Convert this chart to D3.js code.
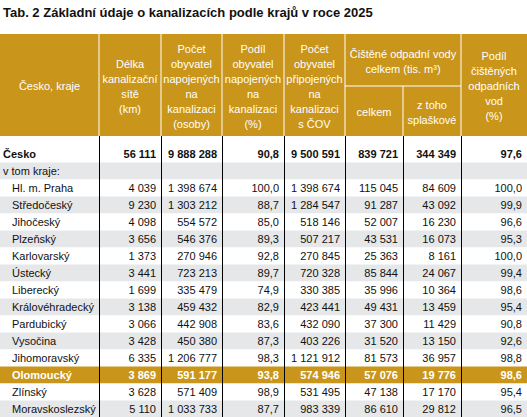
<!DOCTYPE html>
<html><head><meta charset="utf-8">
<script src="https://cdn.jsdelivr.net/npm/d3@7"></script>
<style>body{margin:0;background:#fff}text{font-family:"Liberation Sans",Arial,sans-serif}</style>
</head><body><div id="t"></div>
<script>
var regions = ["Česko", "v tom kraje:", "Hl. m. Praha", "Středočeský", "Jihočeský", "Plzeňský", "Karlovarský", "Ústecký", "Liberecký", "Královéhradecký", "Pardubický", "Vysočina", "Jihomoravský", "Olomoucký", "Zlínský", "Moravskoslezský"];
var delka = ["56 111", "", "4 039", "9 230", "4 098", "3 656", "1 373", "3 441", "1 699", "3 138", "3 066", "3 428", "6 335", "3 869", "3 628", "5 110"];
var napojeni = ["9 888 288", "", "1 398 674", "1 303 212", "554 572", "546 376", "270 946", "723 213", "335 479", "459 432", "442 908", "450 380", "1 206 777", "591 177", "571 409", "1 033 733"];
var podilNap = ["90,8", "", "100,0", "88,7", "85,0", "89,3", "92,8", "89,7", "74,9", "82,9", "83,6", "87,3", "98,3", "93,8", "98,9", "87,7"];
var pripojeni = ["9 500 591", "", "1 398 674", "1 284 547", "518 146", "507 217", "270 845", "720 328", "330 385", "423 441", "432 090", "403 226", "1 121 912", "574 946", "531 495", "983 339"];
var cisteneCelkem = ["839 721", "", "115 045", "91 287", "52 007", "43 531", "25 363", "85 844", "35 996", "49 431", "37 300", "31 520", "81 573", "57 076", "47 138", "86 610"];
var splaskove = ["344 349", "", "84 609", "43 092", "16 230", "16 073", "8 161", "24 067", "10 364", "13 459", "11 429", "13 150", "36 957", "19 776", "17 170", "29 812"];
var podilCist = ["97,6", "", "100,0", "99,9", "96,6", "95,3", "100,0", "99,4", "98,6", "95,4", "90,8", "92,6", "98,8", "98,6", "95,4", "96,5"];

var cols = [delka, napojeni, podilNap, pripojeni, cisteneCelkem, splaskove, podilCist];
var edges = [0, 99, 161, 222, 284, 345, 403, 461, 527];
var gold = "#c9951a", grey = "#e5e7e9";

var svg = d3.select("#t").append("svg").attr("width", 527).attr("height", 417);
svg.append("text").attr("x", 3).attr("y", 17).attr("font-size", 13).attr("font-weight", "bold")
  .attr("fill", "#111").text("Tab. 2 Základní údaje o kanalizacích podle krajů v roce 2025");

// header
var hTop = 34, hBot = 136;
svg.append("rect").attr("x", 0).attr("y", hTop).attr("width", 527).attr("height", hBot - hTop).attr("fill", gold);
var heads = [
  {x0: 0, x1: 99, y: 86, lines: ["Česko, kraje"]},
  {x0: 99, x1: 161, y: 86, lines: ["Délka", "kanalizační", "sítě", "(km)"]},
  {x0: 161, x1: 222, y: 86, lines: ["Počet", "obyvatel", "napojených", "na", "kanalizaci", "(osoby)"]},
  {x0: 222, x1: 284, y: 86, lines: ["Podíl", "obyvatel", "napojených", "na", "kanalizaci", "(%)"]},
  {x0: 284, x1: 345, y: 86, lines: ["Počet", "obyvatel", "připojených", "na", "kanalizaci", "s ČOV"]},
  {x0: 345, x1: 461, y: 61, lines: ["Čištěné odpadní vody", "celkem (tis. m³)"]},
  {x0: 345, x1: 403, y: 112, lines: ["celkem"]},
  {x0: 403, x1: 461, y: 112, lines: ["z toho", "splaškové"]},
  {x0: 461, x1: 527, y: 86, lines: ["Podíl", "čištěných", "odpadních", "vod", "(%)"]}
];
var lh = 15;
heads.forEach(function(h) {
  var t = svg.append("text").attr("text-anchor", "middle").attr("font-size", 11).attr("fill", "#fff");
  var y0 = h.y - (h.lines.length - 1) * lh / 2 + 4;
  h.lines.forEach(function(l, i) {
    t.append("tspan").attr("x", (h.x0 + h.x1) / 2).attr("y", y0 + i * lh).text(l);
  });
});
[99, 161, 222, 284, 345, 461].forEach(function(x) {
  svg.append("line").attr("x1", x).attr("x2", x).attr("y1", hTop).attr("y2", hBot).attr("stroke", "#fff");
});
svg.append("line").attr("x1", 345).attr("x2", 461).attr("y1", 86).attr("y2", 86).attr("stroke", "#fff");
svg.append("line").attr("x1", 403).attr("x2", 403).attr("y1", 86).attr("y2", hBot).attr("stroke", "#fff");

// body rows
var y = d3.scaleLinear().domain([1, 15]).range([171, 409]);
function rowY(i) { return i === 0 ? 154 : y(i); }
var rows = svg.selectAll("g.row").data(regions).enter().append("g").attr("class", "row");
rows.append("rect")
  .attr("x", 0).attr("width", 527)
  .attr("y", function(d, i) { return i === 0 ? 137 : rowY(i) - 8.5; })
  .attr("height", function(d, i) { return i === 0 ? 25.5 : 17; })
  .attr("fill", function(d, i) { return d === "Olomoucký" ? gold : (i > 0 && i % 2 === 1 ? grey : "#fff"); });
rows.append("text")
  .attr("x", function(d, i) { return i < 2 ? 3 : 12; })
  .attr("y", function(d, i) { return rowY(i) + 4; })
  .attr("font-size", 11)
  .attr("font-weight", function(d, i) { return i === 0 || d === "Olomoucký" ? "bold" : "normal"; })
  .attr("fill", function(d) { return d === "Olomoucký" ? "#fff" : "#111"; })
  .text(function(d) { return d; });
cols.forEach(function(c, ci) {
  rows.append("text")
    .attr("x", edges[ci + 2] - 5)
    .attr("y", function(d, i) { return rowY(i) + 4; })
    .attr("text-anchor", "end").attr("font-size", 11)
    .attr("font-weight", function(d, i) { return i === 0 || d === "Olomoucký" ? "bold" : "normal"; })
    .attr("fill", function(d) { return d === "Olomoucký" ? "#fff" : "#111"; })
    .text(function(d, i) { return c[i]; });
});
[99, 161, 222, 284, 345, 403, 461].forEach(function(x) {
  svg.append("line").attr("x1", x + 0.5).attr("x2", x + 0.5).attr("y1", hBot).attr("y2", 417).attr("stroke", "#000");
});
</script></body></html>
